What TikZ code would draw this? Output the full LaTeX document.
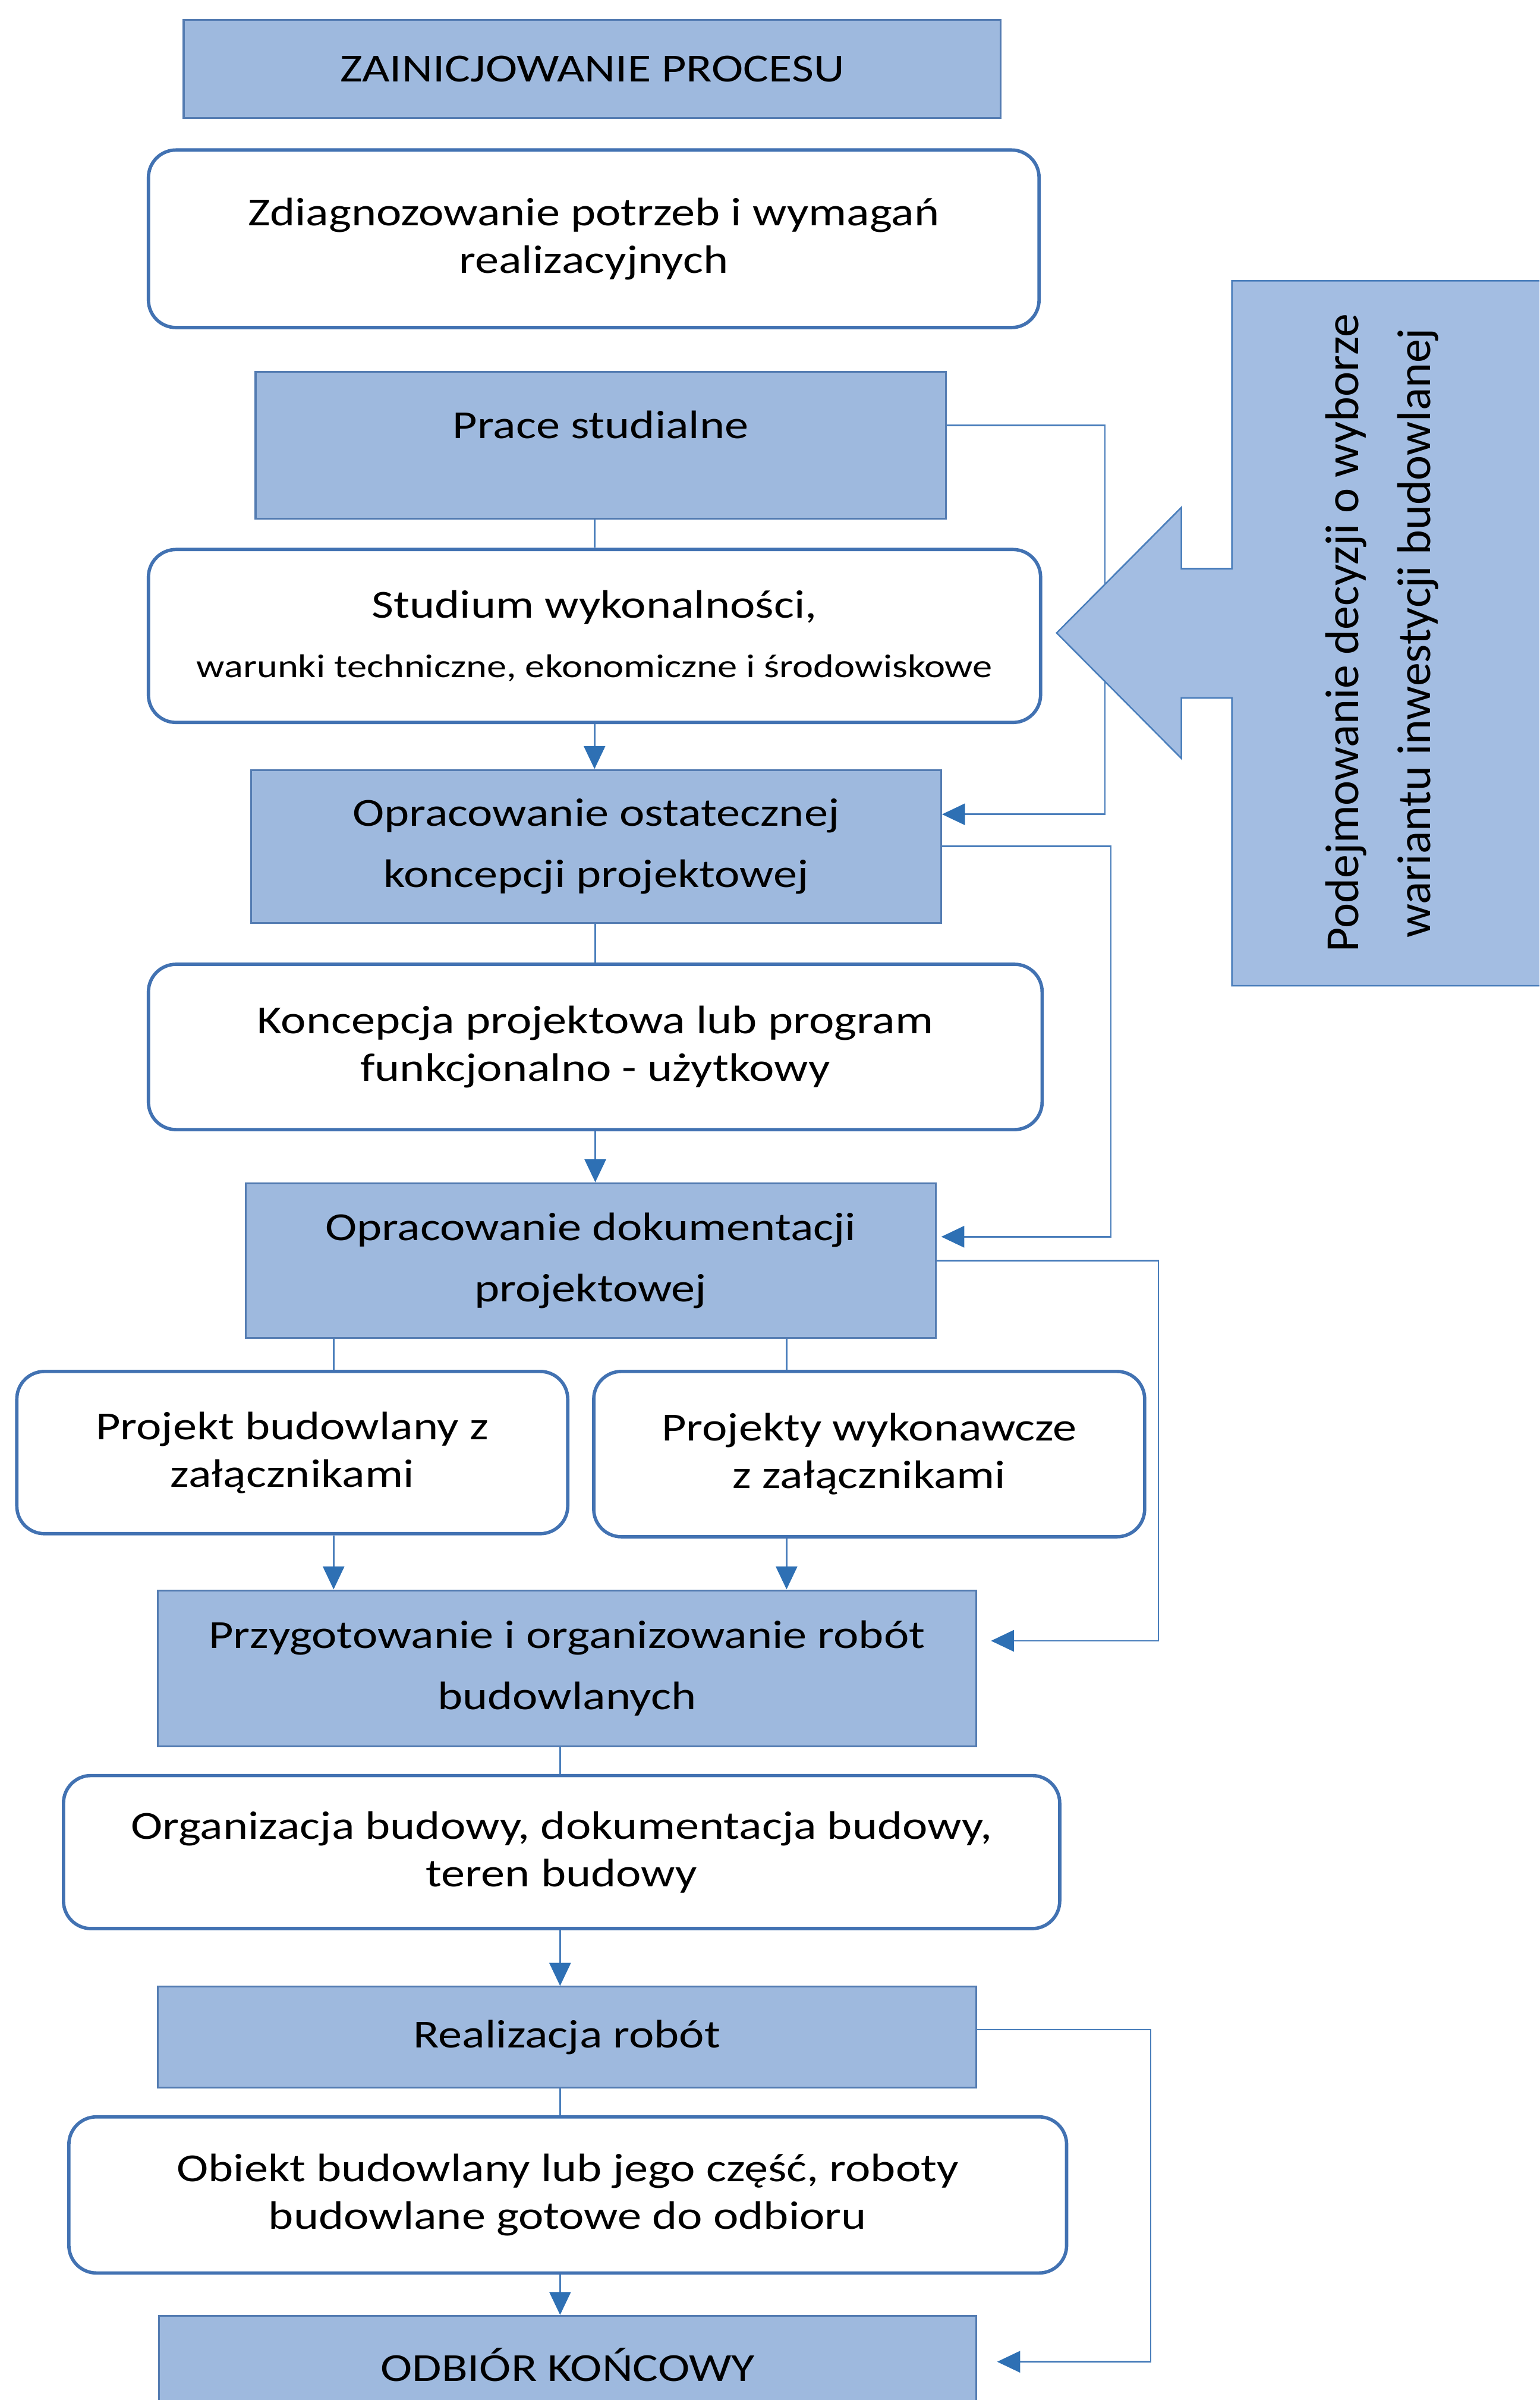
\documentclass[tikz,border=0pt]{standalone}
\usepackage{fontspec}
\setmainfont{Carlito}[FakeStretch=1.2]
\newfontfamily\sidefont{Carlito}
\usetikzlibrary{arrows.meta,positioning}
\definecolor{taskfill}{RGB}{158,185,222}
\definecolor{taskline}{RGB}{84,124,178}
\definecolor{noteline}{RGB}{66,114,178}
\definecolor{linkblue}{RGB}{74,126,187}
\definecolor{tipblue}{RGB}{46,112,180}
\definecolor{panelfill}{RGB}{163,189,226}
\tikzset{flow/.style={draw=linkblue, line width=1pt, -{Triangle[length=15pt,width=14pt,color=tipblue]}},
  link/.style={draw=linkblue, line width=1pt},
  task/.style={draw=taskline, line width=1.2pt, fill=taskfill, align=center, inner sep=0pt,
    font=\fontsize{26}{40}\selectfont},
  note/.style={draw=noteline, line width=2.2pt, fill=white, rounded corners=18pt, align=center,
    inner sep=0pt, font=\fontsize{26}{31}\selectfont}}

\begin{document}
\begin{tikzpicture}[x=1pt, y=-1pt]
  \useasboundingbox (0,0) rectangle (1006,1568);
  \clip (0,0) rectangle (1006,1568);
  % main column
  \node[task, minimum width=534, minimum height=64] (init) at (387,45) {ZAINICJOWANIE PROCESU};
  \node[note, minimum width=582, minimum height=116] (diag) at (388,156) {Zdiagnozowanie potrzeb i wymagań\\realizacyjnych};
  \node[task, minimum width=451, minimum height=96, text depth=27pt] (prace) at (392.5,291) {Prace studialne};
  \node[note, minimum width=583, minimum height=113] (studium) at (388.5,415.5) {Studium wykonalności,\\[8pt]{\fontsize{21.5}{26}\selectfont warunki techniczne, ekonomiczne i środowiskowe}};
  \node[task, minimum width=451, minimum height=100] (ostat) at (389.5,553) {Opracowanie ostatecznej\\koncepcji projektowej};
  \node[note, minimum width=584, minimum height=108] (konc) at (389,684) {Koncepcja projektowa lub program\\funkcjonalno - użytkowy};
  \node[task, minimum width=451, minimum height=101] (dok) at (386,823.5) {Opracowanie dokumentacji\\projektowej};
  \node[note, minimum width=360, minimum height=106] (pbud) at (191,949) {Projekt budowlany z\\załącznikami};
  \node[note, minimum width=360, minimum height=108] (pwyk) at (568,950) {Projekty wykonawcze\\z załącznikami};
  \node[task, minimum width=535, minimum height=102] (przyg) at (370.5,1090) {Przygotowanie i organizowanie robót\\budowlanych};
  \node[note, minimum width=651, minimum height=100] (org) at (367,1210) {Organizacja budowy, dokumentacja budowy,\\teren budowy};
  \node[task, minimum width=535, minimum height=66] (real) at (370.5,1331) {Realizacja robót};
  \node[note, minimum width=652, minimum height=102] (obiekt) at (371,1434) {Obiekt budowlany lub jego część, roboty\\budowlane gotowe do odbioru};
  \node[task, minimum width=534, minimum height=64] (odbior) at (371,1545) {ODBIÓR KOŃCOWY};
  % down the column
  \coordinate (colL) at (218,0);
  \coordinate (colR) at (514,0);
  \coordinate (colM) at (366,0);
  \draw[link] (prace.south -| studium.north) -- (studium.north);
  \draw[flow] (studium.south) -- (studium.south |- ostat.north);
  \draw[link] (ostat.south -| konc.north) -- (konc.north);
  \draw[flow] (konc.south) -- (konc.south |- dok.north);
  \draw[link] (dok.south -| colL) -- (pbud.north -| colL);
  \draw[link] (dok.south -| colR) -- (pwyk.north -| colR);
  \draw[flow] (pbud.south -| colL) -- (przyg.north -| colL);
  \draw[flow] (pwyk.south -| colR) -- (przyg.north -| colR);
  \draw[link] (przyg.south -| colM) -- (org.north -| colM);
  \draw[flow] (org.south -| colM) -- (real.north -| colM);
  \draw[link] (real.south -| colM) -- (obiekt.north -| colM);
  \draw[flow] (obiekt.south -| colM) -- (odbior.north -| colM);
  % loops on the right
  \coordinate (busA) at (722,0);
  \coordinate (busB) at (726,0);
  \coordinate (busC) at (757,0);
  \coordinate (busD) at (752,0);
  \coordinate (praceOut) at ([yshift=13pt]prace.east);
  \coordinate (ostatIn) at ([yshift=21pt]ostat.east);
  \coordinate (dokIn) at ([yshift=15.5pt]dok.east);
  \coordinate (przygIn) at ([yshift=18pt]przyg.east);
  \coordinate (realOut) at ([yshift=5pt]real.east);
  \coordinate (odbiorIn) at ([yshift=2pt]odbior.east);
  \draw[flow] (praceOut) -- (praceOut -| busA) -- (ostatIn -| busA) -- (ostatIn);
  \draw[flow, shorten >=3pt] (ostat.east) -- (ostat.east -| busB) -- (dokIn -| busB) -- (dokIn);
  \draw[flow, shorten >=9pt] (dok.east) -- (dok.east -| busC) -- (przygIn -| busC) -- (przygIn);
  \draw[flow, shorten >=13pt] (realOut) -- (realOut -| busD) -- (odbiorIn -| busD) -- (odbiorIn);
  % decision panel
  \draw[draw=linkblue, line width=1pt, fill=panelfill] (805,183.5) -- (1012,183.5) -- (1012,644)
    -- (805,644) -- (805,456) -- (772,456) -- (772,495.5) -- (690.5,413.5) -- (772,331.5)
    -- (772,371.5) -- (805,371.5) -- cycle;
  \node[rotate=90, align=center, font=\sidefont\fontsize{31}{47}\selectfont] (decide) at (903,413.5)
    {Podejmowanie decyzji o wyborze\\wariantu inwestycji budowlanej};
\end{tikzpicture}
\end{document}
